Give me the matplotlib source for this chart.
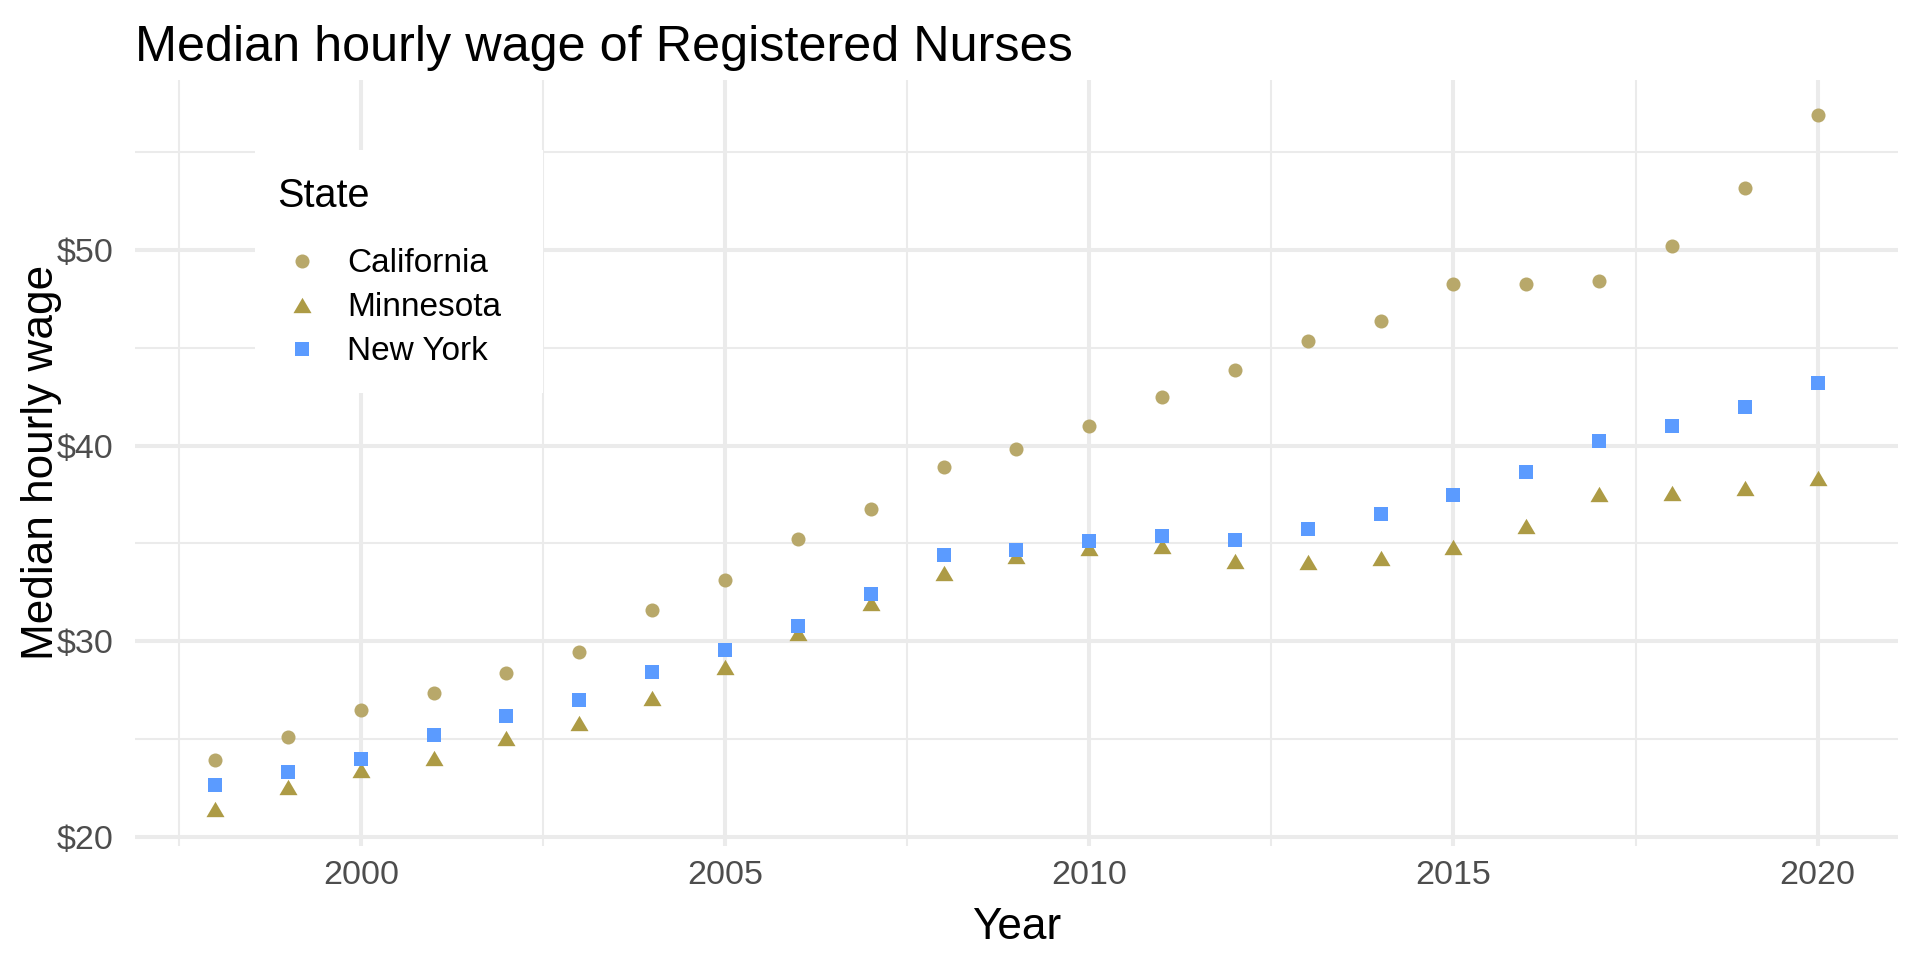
import matplotlib
matplotlib.use("Agg")
import matplotlib.pyplot as plt
from matplotlib.patches import Rectangle
from matplotlib.ticker import MultipleLocator, FuncFormatter

# Median hourly wage of registered nurses
years = list(range(1998, 2021))
california = [23.92, 25.11, 26.48, 27.36, 28.38, 29.44, 31.59, 33.12, 35.22, 36.75,
              38.90, 39.82, 41.00, 42.48, 43.86, 45.34, 46.36, 48.26, 48.26, 48.43,
              50.21, 53.18, 56.91]
minnesota = [21.41, 22.56, 23.39, 24.00, 25.03, 25.82, 27.10, 28.69, 30.41, 31.95,
             33.47, 34.35, 34.76, 34.86, 34.07, 34.02, 34.26, 34.79, 35.89, 37.50,
             37.57, 37.85, 38.34]
new_york = [22.64, 23.32, 23.97, 25.20, 26.17, 26.99, 28.42, 29.55, 30.77, 32.41,
            34.41, 34.66, 35.12, 35.37, 35.15, 35.73, 36.50, 37.47, 38.66, 40.25,
            41.01, 41.98, 43.18]
states = ["California", "Minnesota", "New York"]

plt.rcParams["font.family"] = ["Liberation Sans", "DejaVu Sans"]

fig = plt.figure(figsize=(19.2, 9.6), dpi=100)
ax = fig.add_axes([0.0703, 0.1191, 0.9181, 0.7976])

# shape / colour per state (ggplot-like look)
tri = [(-1, -0.85), (1, -0.85), (0, 0.85)]
ax.plot(years, california, ls="none", marker="o", ms=10.1, mew=0,
        color="#B8A86A", label=states[0], zorder=3)
ax.plot(years, minnesota, ls="none", marker=tri, ms=13.0, mew=0,
        color="#AD9B45", label=states[1], zorder=3)
ax.plot(years, new_york, ls="none", marker="s", ms=10.4, mew=0,
        color="#5B9BFF", label=states[2], zorder=3)

ax.set_xlim(1996.9, 2021.1)
ax.set_ylim(19.54, 58.69)

ax.xaxis.set_major_locator(MultipleLocator(5))
ax.xaxis.set_minor_locator(MultipleLocator(2.5))
ax.yaxis.set_major_locator(MultipleLocator(10))
ax.yaxis.set_minor_locator(MultipleLocator(5))
ax.yaxis.set_major_formatter(FuncFormatter(lambda v, p: f"${v:.0f}"))

ax.grid(True, which="major", color="#EBEBEB", lw=2.9)
ax.grid(True, which="minor", color="#EBEBEB", lw=1.45)
ax.set_axisbelow(True)
for s in ax.spines.values():
    s.set_visible(False)

ax.tick_params(which="both", length=0)
ax.tick_params(axis="x", labelsize=24.5, labelcolor="#4D4D4D", pad=10.5)
ax.tick_params(axis="y", labelsize=24.5, labelcolor="#4D4D4D", pad=15.4)

ax.set_xlabel("Year", fontsize=31.8)
ax.set_ylabel("Median hourly wage", fontsize=31.8)
ax.xaxis.set_label_coords(0.5, -0.080)
ax.yaxis.set_label_coords(-0.0414, 0.5)

ax.set_title("Median hourly wage of Registered Nurses", loc="left",
             fontsize=36.3, pad=13.9)

# white legend background (ggplot legend box hides the grid behind it)
ax.add_patch(Rectangle((0.0681, 0.5912), 0.1634, 0.3174, transform=ax.transAxes,
                       facecolor="white", edgecolor="none", zorder=2))

leg = ax.legend(title="State", loc="upper left", bbox_to_anchor=(0.0681, 0.902),
                borderaxespad=0, fontsize=24, title_fontsize=28.5,
                frameon=False, borderpad=0.66, labelspacing=0.39,
                handlelength=1.5, handletextpad=0.6, alignment="left")
leg._legend_box.sep = 24  # more room under the legend title

fig.savefig("out.png", dpi=100, facecolor="white")
